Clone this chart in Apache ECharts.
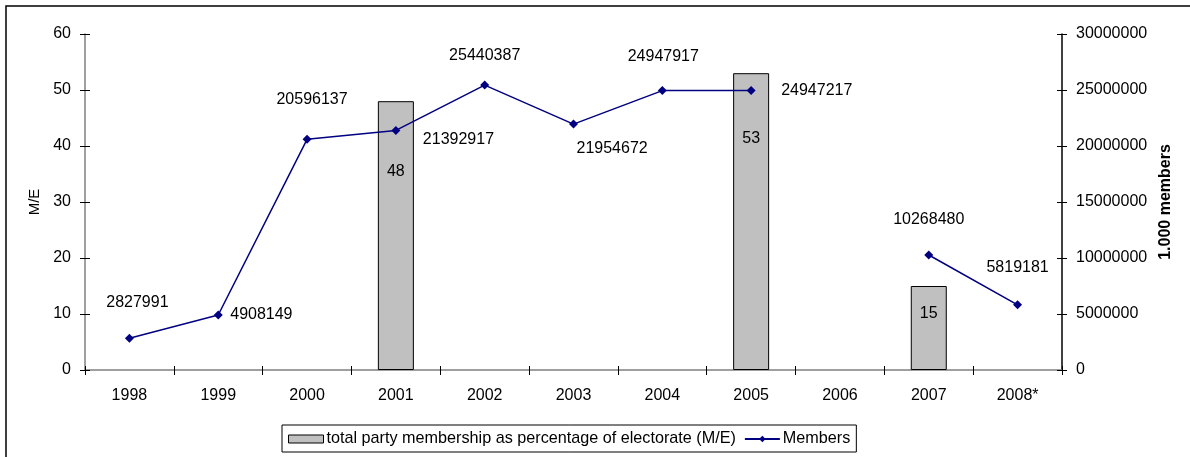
<!DOCTYPE html>
<html>
<head>
<meta charset="utf-8">
<title>Party membership</title>
<script src="https://cdn.jsdelivr.net/npm/echarts@6/dist/echarts.min.js"></script>
<style>
  html, body { margin: 0; padding: 0; background: #fff; }
  #chart { width: 1190px; height: 457px; }
</style>
</head>
<body>
<div id="chart"></div>
<script>
// Years on the category axis
const years = ['1998', '1999', '2000', '2001', '2002', '2003', '2004', '2005', '2006', '2007', '2008*'];
// Total party membership as percentage of electorate (M/E); gaps where not measured
const meShare = [null, null, null, 48, null, null, null, 53, null, 15, null];
// Party members per year
const members = [2827991, 4908149, 20596137, 21392917, 25440387, 21954672, 24947917, 24947217, null, 10268480, 5819181];
// Axis tick settings
const leftTicks = { min: 0, max: 60, interval: 10 };
const rightTicks = { min: 0, max: 30000000, interval: 5000000 };

const FONT = 'Liberation Sans, Arial, sans-serif';
const GRAY = '#808080';

// Where each member count label sits relative to its point: [dx, dy, align]
const memberLabelPlace = [
  [8, -36, 'center'], [12, 0, 'left'], [5, -40, 'center'], [27, 9, 'left'],
  [0, -29, 'center'], [3, 24, 'left'], [1, -34, 'center'], [30, 0, 'left'],
  [0, 0, 'center'], [0, -35, 'center'], [0, -37, 'center']
];
// Vertical position of each bar's value label, from the bar top
const barLabelDrop = { 3: 70, 7: 65, 9: 28 };

const barData = meShare.map((v, i) => v == null ? null : {
  value: v,
  label: { position: ['50%', barLabelDrop[i]], align: 'center', verticalAlign: 'middle' }
});
const lineData = members.map((v, i) => v == null ? null : {
  value: v,
  label: {
    position: 'inside',
    offset: [memberLabelPlace[i][0], memberLabelPlace[i][1]],
    align: memberLabelPlace[i][2],
    verticalAlign: 'middle'
  }
});

const chart = echarts.init(document.getElementById('chart'), null, { renderer: 'canvas' });

const numLabel = { color: '#000', fontSize: 16, fontFamily: FONT };
const plain = v => String(v);

chart.setOption({
  animation: false,
  backgroundColor: '#fff',
  textStyle: { fontFamily: FONT },
  graphic: [{
    type: 'rect',
    shape: { x: 6, y: 6, width: 1300, height: 600 },
    style: { fill: 'none', stroke: '#000', lineWidth: 1.5 },
    silent: true,
    z: 100
  }],
  grid: { left: 85, right: 128, top: 34, bottom: 87, containLabel: false },
  legend: {
    left: 282,
    top: 425,
    orient: 'horizontal',
    borderColor: '#000',
    borderWidth: 1,
    padding: [6, 6, 5, 6],
    itemGap: 8,
    itemWidth: 35,
    itemHeight: 8,
    textStyle: { color: '#000', fontSize: 16.2, fontFamily: FONT, padding: [0, 0, 0, -2] },
    data: [
      { name: 'total party membership as percentage of electorate (M/E)', icon: 'rect',
        itemStyle: { color: '#c0c0c0', borderColor: '#000', borderWidth: 1 } },
      { name: 'Members' }
    ]
  },
  xAxis: [
    {
      type: 'category',
      data: years,
      boundaryGap: true,
      axisLine: { lineStyle: { color: GRAY, width: 1.5 } },
      axisTick: { show: true, length: 5, lineStyle: { color: '#000' } },
      axisLabel: { color: '#000', fontSize: 16, fontFamily: FONT, margin: 18 },
      splitLine: { show: false }
    },
    {
      type: 'category',
      data: years,
      position: 'bottom',
      boundaryGap: true,
      axisLine: { show: false },
      axisTick: { show: true, inside: true, length: 4, lineStyle: { color: '#000' } },
      axisLabel: { show: false },
      splitLine: { show: false }
    }
  ],
  yAxis: [
    {
      type: 'value',
      position: 'left',
      min: leftTicks.min, max: leftTicks.max, interval: leftTicks.interval,
      name: 'M/E',
      nameLocation: 'middle',
      nameGap: 42,
      nameRotate: 90,
      nameTextStyle: { color: '#000', fontSize: 15, fontFamily: FONT },
      axisLine: { show: true, lineStyle: { color: GRAY, width: 1.5 } },
      axisTick: { show: true, length: 5, lineStyle: { color: '#000' } },
      axisLabel: { color: '#000', fontSize: 16, fontFamily: FONT, margin: 14, formatter: plain },
      splitLine: { show: false }
    },
    {
      type: 'value',
      position: 'right',
      min: rightTicks.min, max: rightTicks.max, interval: rightTicks.interval,
      name: '1.000 members',
      nameLocation: 'middle',
      nameGap: 96,
      nameRotate: 90,
      nameTextStyle: { color: '#000', fontSize: 16, fontWeight: 'bold', fontFamily: FONT },
      axisLine: { show: true, lineStyle: { color: '#000', width: 1.5 } },
      axisTick: { show: true, length: 5, lineStyle: { color: '#000' } },
      axisLabel: { color: '#000', fontSize: 16, fontFamily: FONT, margin: 14, formatter: plain },
      splitLine: { show: false }
    },
    {
      type: 'value',
      position: 'left',
      min: leftTicks.min, max: leftTicks.max, interval: leftTicks.interval,
      axisLine: { show: false },
      axisTick: { show: true, inside: true, length: 5, lineStyle: { color: '#000' } },
      axisLabel: { show: false },
      splitLine: { show: false }
    },
    {
      type: 'value',
      position: 'right',
      min: rightTicks.min, max: rightTicks.max, interval: rightTicks.interval,
      axisLine: { show: false },
      axisTick: { show: true, inside: true, length: 5, lineStyle: { color: '#000' } },
      axisLabel: { show: false },
      splitLine: { show: false }
    }
  ],
  series: [
    {
      name: 'total party membership as percentage of electorate (M/E)',
      type: 'bar',
      xAxisIndex: 0,
      yAxisIndex: 0,
      data: barData,
      barWidth: 36,
      itemStyle: { color: '#c0c0c0', borderColor: '#000', borderWidth: 1 },
      label: Object.assign({ show: true }, numLabel),
      z: 2
    },
    {
      name: 'Members',
      type: 'line',
      xAxisIndex: 0,
      yAxisIndex: 1,
      data: lineData,
      connectNulls: false,
      symbol: 'diamond',
      symbolSize: 9,
      showAllSymbol: true,
      lineStyle: { color: '#000080', width: 1.5 },
      itemStyle: { color: '#000080' },
      label: Object.assign({ show: true }, numLabel),
      z: 3
    }
  ]
});
</script>
</body>
</html>
